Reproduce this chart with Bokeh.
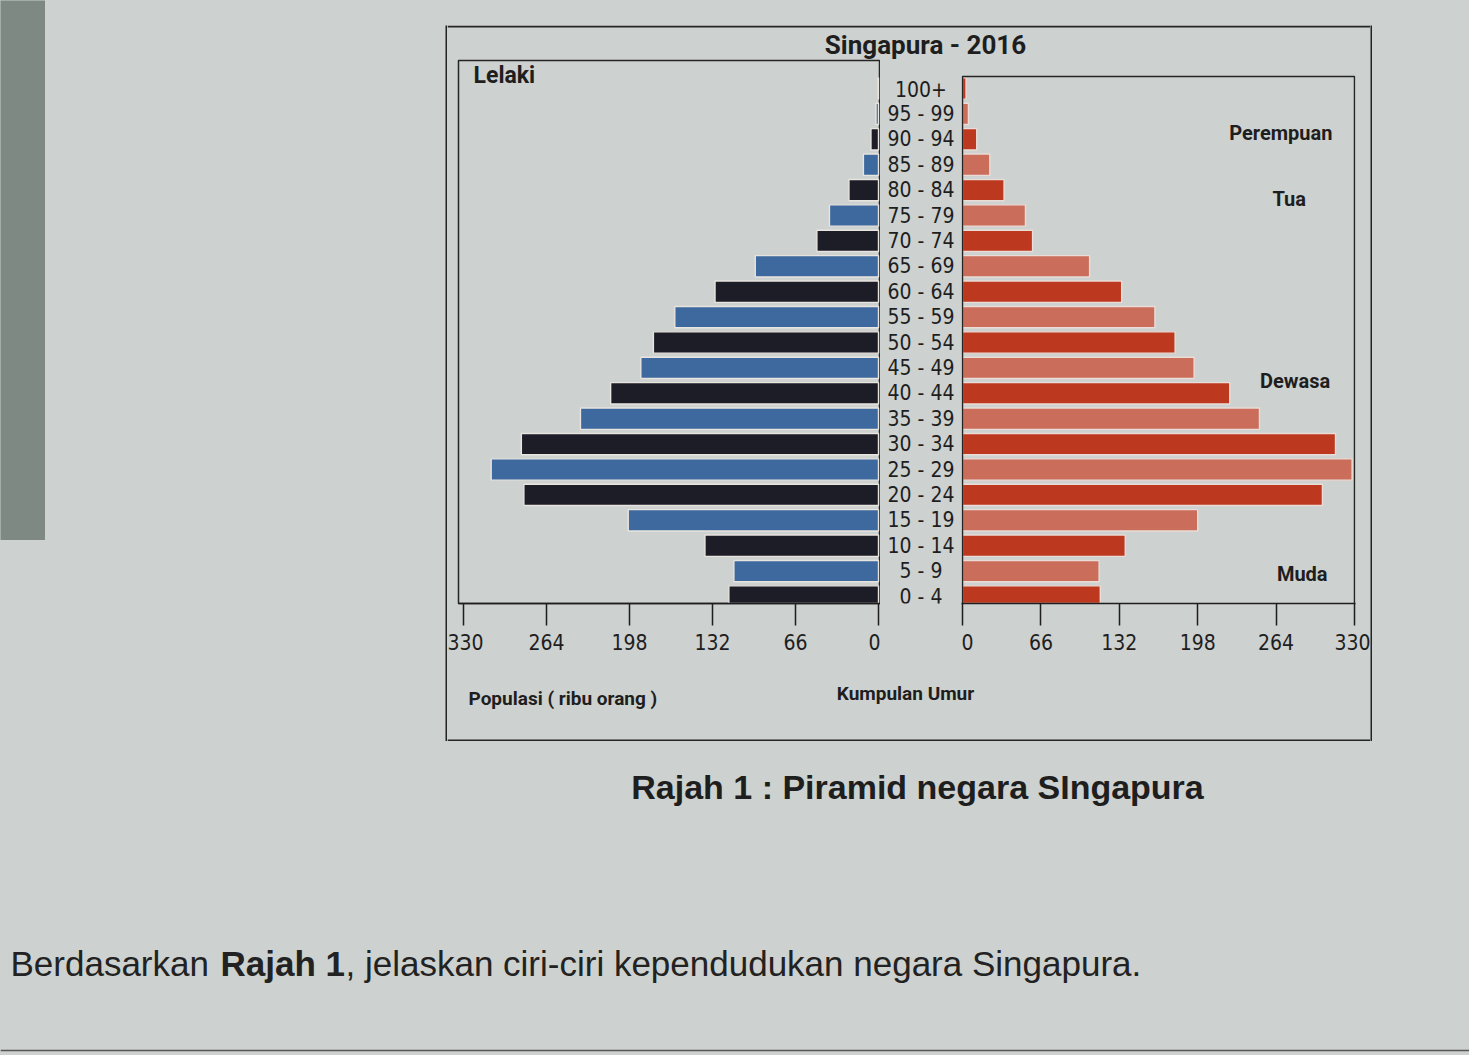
from bokeh.plotting import figure
from bokeh.layouts import row, column
from bokeh.models import Range1d, FixedTicker, Label, Spacer, ColumnDataSource, Span
from bokeh.core.properties import value
from bokeh.embed import file_html
from bokeh.resources import INLINE

# ---------------- data ----------------
age_groups = ["0 - 4", "5 - 9", "10 - 14", "15 - 19", "20 - 24", "25 - 29", "30 - 34",
              "35 - 39", "40 - 44", "45 - 49", "50 - 54", "55 - 59", "60 - 64", "65 - 69",
              "70 - 74", "75 - 79", "80 - 84", "85 - 89", "90 - 94", "95 - 99", "100+"]
male = [119, 115, 138, 199, 282, 308, 284, 237, 213, 189, 179, 162, 130, 98,
        49, 39, 23.5, 12, 6, 2, 0.5]
female = [116, 115, 137, 198, 303, 328, 314, 250, 225, 195, 179, 162, 134, 107,
          59, 53, 35, 23, 12, 5, 3]
tick_values = [0, 66, 132, 198, 264, 330]

title_text = "Singapura - 2016"
male_label = "Lelaki"
female_label = "Perempuan"
zone_labels = ["Tua", "Dewasa", "Muda"]
x_label = "Populasi ( ribu orang )"
mid_label = "Kumpulan Umur"
caption = "Rajah 1 : Piramid negara SIngapura"

# ---------------- style ----------------
BG = "#cdd1cf"
INK = "#1e1e1e"
DARK = "#252525"
NARROW = "Roboto, Liberation Sans, sans-serif"
COND = "DejaVu Sans Condensed, DejaVu Sans, sans-serif"
SANS = "Liberation Sans, Arial, sans-serif"
M_DARK, M_BLUE = "#1c1d27", "#3d699f"
F_RED, F_SALMON = "#bc381f", "#cb6d5b"

idx = list(range(len(age_groups)))
src = ColumnDataSource(dict(
    idx=idx, age=age_groups, male=male, female=female,
    mcol=[M_DARK if i % 2 == 0 else M_BLUE for i in idx],
    fcol=[F_RED if i % 2 == 0 else F_SALMON for i in idx],
))

BAND = 25.4        # px per age band
C0 = 596.0         # page y of the "0 - 4" band centre
PANEL_TOP = 59     # page y of panel row top
FRAME_TOP = 60     # page y of panel frames (aligned across the row)
FRAME_BOTTOM = 603
RIGHT_BOX_TOP = 76  # page y of the female panel's box


def ypos(page_y):
    return (C0 - page_y) / BAND


def blank(w, h, color=BG):
    f = figure(width=w, height=h, toolbar_location=None, x_axis_location=None,
               y_axis_location=None, min_border=0, output_backend="svg", title=None,
               x_range=Range1d(0, w), y_range=Range1d(h, 0),
               outline_line_color=None, background_fill_color=color,
               border_fill_color=color)
    f.grid.visible = False
    return f


def style_axis(p):
    ax = p.xaxis[0]
    ax.ticker = FixedTicker(ticks=tick_values)
    ax.minor_tick_line_color = None
    ax.major_tick_in = 0
    ax.major_tick_out = 22
    ax.major_tick_line_color = INK
    ax.major_tick_line_width = 1.5
    ax.axis_line_color = INK
    ax.axis_line_width = 1.5
    ax.major_label_text_font = COND
    ax.major_label_text_font_size = "21px"
    ax.major_label_text_color = INK
    ax.major_label_standoff = 8
    p.grid.visible = False


PANEL_H = 606
TOP_BORDER = FRAME_TOP - PANEL_TOP
BOTTOM_BORDER = PANEL_H - (FRAME_BOTTOM - PANEL_TOP)
Y_RANGE = (ypos(FRAME_BOTTOM), ypos(FRAME_TOP))

# male panel (reversed axis)
m_scale = 415 / 330.0
left = figure(width=433, height=PANEL_H, toolbar_location=None, output_backend="svg",
              title=None,
              x_range=Range1d(330 + 5 / m_scale, -2 / m_scale), y_range=Range1d(*Y_RANGE),
              y_axis_location=None, x_axis_location="below",
              min_border_left=11, min_border_right=0, min_border_top=TOP_BORDER,
              min_border_bottom=BOTTOM_BORDER,
              background_fill_color=BG, border_fill_color=BG)
left.hbar(y="idx", left=0, right="male", height=0.84, fill_color="mcol",
          line_color="#e8e4df", line_width=1.4, source=src)
style_axis(left)
left.outline_line_color = DARK
left.outline_line_width = 1.5
left.add_layout(Label(x=322, y=ypos(75), text=male_label, text_font=NARROW,
                      text_font_style="bold", text_font_size="23px", text_align="left",
                      text_baseline="middle", text_color=INK))

# middle: age group labels
mid = figure(width=81, height=PANEL_H, toolbar_location=None, output_backend="svg",
             title=None, x_range=Range1d(0, 1), y_range=Range1d(*Y_RANGE),
             x_axis_location=None, y_axis_location=None,
             min_border_left=0, min_border_right=0, min_border_top=TOP_BORDER,
             min_border_bottom=BOTTOM_BORDER,
             outline_line_color=None, background_fill_color=BG, border_fill_color=BG)
mid.grid.visible = False
mid.text(x=0.5, y="idx", text="age", source=src, text_align="center",
         text_baseline="middle", text_font=value(COND), text_font_size="21px",
         text_color=INK)

# female panel
f_scale = 392 / 330.0
right = figure(width=409, height=PANEL_H, toolbar_location=None, output_backend="svg",
               title=None,
               x_range=Range1d(-1 / f_scale, 330 + 1 / f_scale), y_range=Range1d(*Y_RANGE),
               y_axis_location=None, x_axis_location="below",
               min_border_left=0, min_border_right=15, min_border_top=TOP_BORDER,
               min_border_bottom=BOTTOM_BORDER,
               outline_line_color=None,
               background_fill_color=BG, border_fill_color=BG)
right.hbar(y="idx", left=0, right="female", height=0.84, fill_color="fcol",
           line_color="#eadcd6", line_width=1.4, source=src)
style_axis(right)
# the female panel's own box (starts lower than the male one)
right.multi_line(xs=[[0, 0, 330, 330]],
                 ys=[[Y_RANGE[0], ypos(RIGHT_BOX_TOP), ypos(RIGHT_BOX_TOP), Y_RANGE[0]]],
                 line_color=DARK, line_width=1.5)
for txt, x, py in [(female_label, 268, 132), (zone_labels[0], 275, 198),
                   (zone_labels[1], 280, 380), (zone_labels[2], 286, 573)]:
    right.add_layout(Label(x=x, y=ypos(py), text=txt, text_font=NARROW,
                           text_font_style="bold", text_font_size="20px",
                           text_align="center", text_baseline="middle", text_color=INK))

# title strip (with top border) and bottom strip (with bottom border) inside the box
title_fig = blank(923, 34)
title_fig.add_layout(Span(location=1, dimension="width", line_color=DARK, line_width=2))
title_fig.add_layout(Label(x=478, y=19, text=title_text, text_font=NARROW,
                           text_font_style="bold", text_font_size="26px",
                           text_align="center", text_baseline="middle", text_color=INK))
bottom_fig = blank(923, 76)
bottom_fig.add_layout(Span(location=75, dimension="width", line_color=DARK, line_width=2))
bottom_fig.add_layout(Label(x=21, y=33, text=x_label, text_font=NARROW,
                            text_font_style="bold", text_font_size="19px",
                            text_align="left", text_baseline="middle", text_color=INK))
bottom_fig.add_layout(Label(x=458, y=28, text=mid_label, text_font=NARROW,
                            text_font_style="bold", text_font_size="19px",
                            text_align="center", text_baseline="middle", text_color=INK))

box_inner = column(title_fig, row(left, mid, right), bottom_fig)
box = row(blank(2, 716, DARK), box_inner, blank(2, 716, DARK))

strip = blank(45, 540, "#7e8984")
top = row(column(strip, Spacer(width=45, height=201)),
          Spacer(width=400, height=741),
          column(Spacer(width=927, height=25), box),
          Spacer(width=97, height=741))

# caption + question
cap = blank(1469, 314)
cap.add_layout(Label(x=917, y=45, text=caption, text_font=SANS, text_font_style="bold",
                     text_font_size="34px", text_align="center", text_baseline="middle",
                     text_color=INK))
for txt, x, style in [("Berdasarkan", 10, "normal"), ("Rajah 1", 220, "bold"),
                      (", jelaskan ciri-ciri kependudukan negara Singapura.", 345, "normal")]:
    cap.add_layout(Label(x=x, y=222, text=txt, text_font=SANS, text_font_style=style,
                         text_font_size="35px", text_align="left", text_baseline="middle",
                         text_color="#222222"))
cap.add_layout(Span(location=309, dimension="width", line_color="#555555", line_width=1.5))

page = column(top, cap)

html = file_html(page, INLINE)
pos = html.rfind("<body")
end = html.find(">", pos)
html = html[:pos] + '<body style="margin:0;background:%s">' % BG + html[end + 1:]
open("out.html", "w").write(html)
